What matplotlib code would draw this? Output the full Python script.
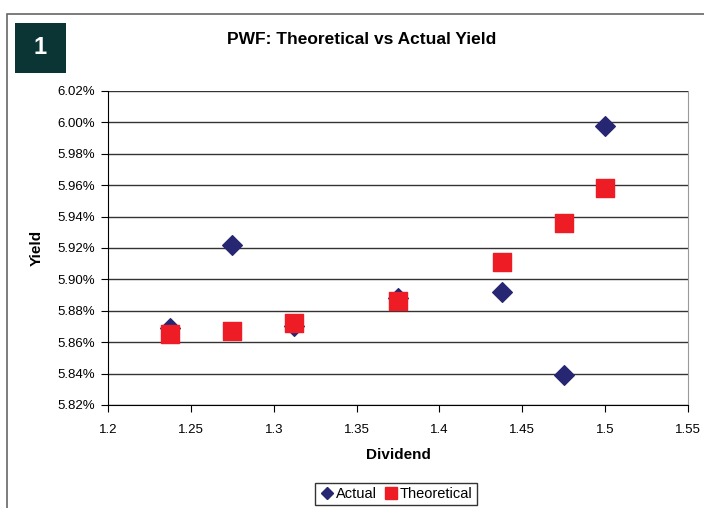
import matplotlib
matplotlib.use("Agg")
import matplotlib.pyplot as plt
from matplotlib.patches import Rectangle
from matplotlib.lines import Line2D
from matplotlib.ticker import FuncFormatter, MultipleLocator

plt.rcParams['font.family'] = ['Liberation Sans', 'DejaVu Sans']

# dividend vs yield
actual_div = [1.2375, 1.275, 1.3125, 1.375, 1.4375, 1.475, 1.5]
actual_yield = [5.869, 5.922, 5.870, 5.888, 5.892, 5.839, 5.998]

theo_div = [1.2375, 1.275, 1.3125, 1.375, 1.4375, 1.475, 1.5]
theo_yield = [5.865, 5.867, 5.872, 5.886, 5.911, 5.936, 5.958]


def xfmt(v, p):
    s = '%.2f' % v
    return s.rstrip('0') if not s.endswith('00') else s[:-1]


fig = plt.figure(figsize=(7.04, 5.08), dpi=100)

# outer frame and the numbered badge
fig.add_artist(Rectangle((7/704, -0.01), 1.0, 1 - 14/508 + 0.01, transform=fig.transFigure,
                         fill=False, edgecolor='#666666', linewidth=1.2))
fig.add_artist(Rectangle((15/704, 1 - 73/508), 51/704, 50/508, transform=fig.transFigure,
                         facecolor='#0b3535', edgecolor='none'))
fig.text(40/704, 1 - 47/508, "1", color='white', fontsize=17, fontweight='bold',
         ha='center', va='center')
fig.text(362/704, 1 - 40/508, "PWF: Theoretical vs Actual Yield", fontsize=12.5,
         fontweight='bold', ha='center', va='center')

ax = fig.add_axes([108/704, 1 - 405/508, 580/704, 314/508])
ax.scatter(actual_div, actual_yield, marker='D', s=100, color='#262673', zorder=3)
ax.scatter(theo_div, theo_yield, marker='s', s=150, color='#ee1c25', zorder=4)

ax.set_xlim(1.2, 1.55)
ax.set_ylim(5.82, 6.02)
ax.xaxis.set_major_locator(MultipleLocator(0.05))
ax.yaxis.set_major_locator(MultipleLocator(0.02))
ax.xaxis.set_major_formatter(FuncFormatter(xfmt))
ax.yaxis.set_major_formatter(FuncFormatter(lambda v, p: '%.2f%%' % v))
ax.grid(axis='y', color='#333333', linewidth=1.0)
ax.set_axisbelow(True)
ax.tick_params(labelsize=9.5, length=5, direction='out', color='black')
ax.tick_params(axis='x', pad=9)
ax.tick_params(axis='y', pad=4)
ax.spines['top'].set_visible(False)
ax.spines['right'].set_color('#999999')
ax.set_xlabel("Dividend", fontsize=11, fontweight='bold', labelpad=8)
ax.set_ylabel("Yield", fontsize=11, fontweight='bold', labelpad=10)

handles = [Line2D([], [], marker='D', linestyle='none', color='#262673', markersize=6.5),
           Line2D([], [], marker='s', linestyle='none', color='#ee1c25', markersize=8.5)]
fig.legend(handles, ["Actual", "Theoretical"], loc='center', bbox_to_anchor=(396/704, 1 - 494/508),
           ncol=2, fontsize=10.5, frameon=True, fancybox=False, edgecolor='black',
           handletextpad=0.1, columnspacing=0.5, handlelength=1.0, borderpad=0.3)

fig.savefig("out.png", dpi=100)
